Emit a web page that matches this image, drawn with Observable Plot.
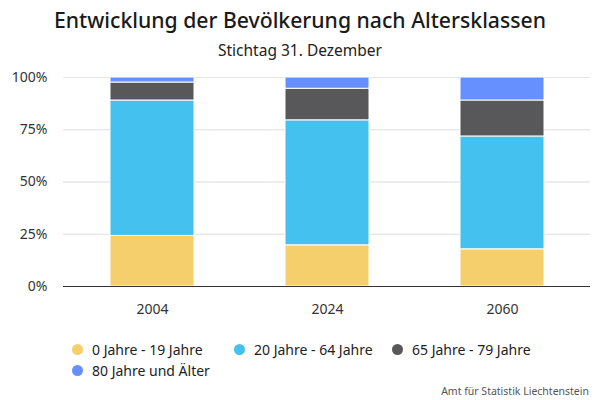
<!DOCTYPE html>
<html>
<head>
<meta charset="utf-8">
<script src="https://cdn.jsdelivr.net/npm/d3@7"></script>
<script src="https://cdn.jsdelivr.net/npm/@observablehq/plot@0.6"></script>
<style>
  body { margin: 0; background: #fff; font-family: "Noto Sans", sans-serif; color: #222; }
  #wrap { position: relative; width: 600px; height: 400px; overflow: hidden; }
  #title { position: absolute; top: 5px; left: 0; width: 600px; text-align: center; font-size: 21.2px; font-weight: 500; color: #1a1a1a; }
  #subtitle { position: absolute; top: 39px; left: 0; width: 600px; text-align: center; font-size: 15.5px; color: #222; }
  #chart { position: absolute; top: 65px; left: 0; }
  .leg { position: absolute; font-size: 14px; color: #222; display: flex; align-items: center; white-space: nowrap; }
  .leg span.dot { width: 11px; height: 11px; border-radius: 50%; display: inline-block; margin-right: 9px; }
  #source { position: absolute; right: 11px; top: 384px; font-size: 10.5px; color: #555; }
</style>
</head>
<body>
<div id="wrap">
  <div id="title">Entwicklung der Bevölkerung nach Altersklassen</div>
  <div id="subtitle">Stichtag 31. Dezember</div>
  <div id="chart"></div>
  <div id="legend"></div>
  <div id="source">Amt für Statistik Liechtenstein</div>
</div>
<script>
const years = ["2004", "2024", "2060"];
const groups = ["0 Jahre - 19 Jahre", "20 Jahre - 64 Jahre", "65 Jahre - 79 Jahre", "80 Jahre und Älter"];
const colors = ["#F5CF6B", "#45C1EF", "#58585A", "#6690FE"];
const share0to19 = [24.2, 19.7, 17.8];
const share20to64 = [64.8, 59.8, 54.0];
const share65to79 = [8.6, 15.1, 17.2];
const share80plus = [2.4, 5.4, 11.0];
const yTicks = [0, 25, 50, 75, 100];

const series = [share0to19, share20to64, share65to79, share80plus];
const data = [];
groups.forEach((g, gi) => {
  years.forEach((yr, yi) => data.push({ year: yr, group: g, value: series[gi][yi] }));
});

const chart = Plot.plot({
  width: 600,
  height: 260,
  marginTop: 12,
  marginBottom: 39,
  marginLeft: 63,
  marginRight: 10,
  style: { fontFamily: "Noto Sans, sans-serif", fontSize: "14px", color: "#333" },
  x: { domain: years, paddingInner: 0.52, paddingOuter: 0.26, label: null, tickSize: 0, tickPadding: 18 },
  y: { domain: [0, 100], ticks: yTicks, tickFormat: d => d + "%", label: null, tickSize: 0, tickPadding: 16, grid: true },
  color: { domain: groups, range: colors },
  marks: [
    Plot.gridY(yTicks, { stroke: "#e6e6e6", strokeOpacity: 1 }),
    Plot.barY(data, { x: "year", y: "value", fill: "group", stroke: "#fff", strokeWidth: 1, rx: 1.5 }),
    Plot.ruleY([0], { stroke: "#333", strokeWidth: 1 })
  ]
});
document.getElementById("chart").appendChild(chart);

const legPos = [[72, 349], [234, 349], [392, 349], [72, 370]];
const legend = document.getElementById("legend");
groups.forEach((g, i) => {
  const d = document.createElement("div");
  d.className = "leg";
  d.style.left = legPos[i][0] + "px";
  d.style.top = (legPos[i][1] - 10) + "px";
  d.style.height = "20px";
  d.innerHTML = `<span class="dot" style="background:${colors[i]}"></span>${g}`;
  legend.appendChild(d);
});
</script>
</body>
</html>
